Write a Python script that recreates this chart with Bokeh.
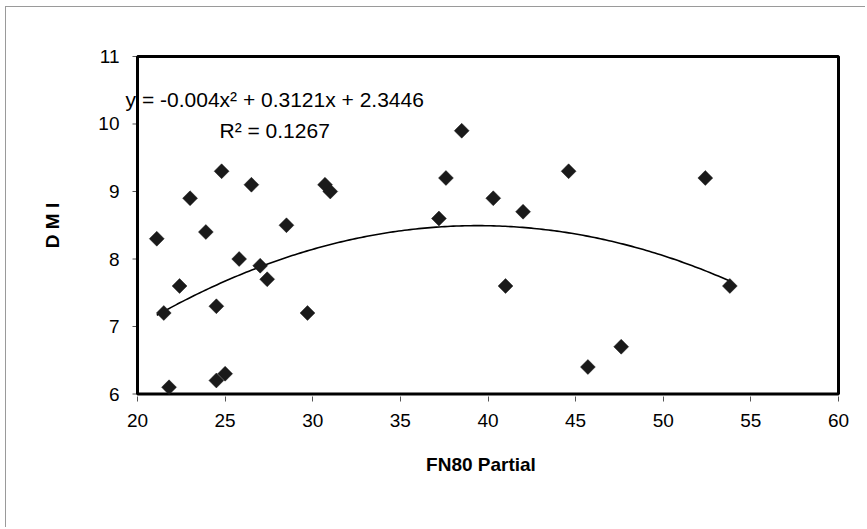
import numpy as np
from bokeh.plotting import figure
from bokeh.models import FixedTicker, Label, ColumnDataSource, Range1d
from bokeh.embed import file_html
from bokeh.resources import INLINE

# ---- data ----
fn80_partial = [24.8, 23.0, 26.5, 30.7, 31.0, 23.9, 28.5, 21.1, 25.8, 27.0,
                27.4, 22.4, 21.5, 24.5, 29.7, 21.8, 24.5, 25.0, 38.5, 37.6,
                40.3, 42.0, 37.2, 44.6, 41.0, 45.7, 47.6, 52.4, 53.8]
dmi = [9.3, 8.9, 9.1, 9.1, 9.0, 8.4, 8.5, 8.3, 8.0, 7.9,
       7.7, 7.6, 7.2, 7.3, 7.2, 6.1, 6.2, 6.3, 9.9, 9.2,
       8.9, 8.7, 8.6, 9.3, 7.6, 6.4, 6.7, 9.2, 7.6]
# polynomial trendline coefficients (label shows a rounded -0.004)
trend_coeffs = [-0.00396, 0.3121, 2.3446]
equation_text = "y = -0.004x² + 0.3121x + 2.3446"
r2_text = "R² = 0.1267"
x_ticks = [20, 25, 30, 35, 40, 45, 50, 55, 60]
y_ticks = [6, 7, 8, 9, 10, 11]

FONT = "Liberation Sans"
PX_PER_X = 17.525          # screen pixels per x unit (style constant)
TICK_LEN = 5 / PX_PER_X    # 5px outward y ticks

# frame slightly wider than the axes box so the equation label is not clipped
p = figure(width=860, height=521,
           x_range=Range1d(19.087, 60.114), y_range=Range1d(5.963, 11.0296),
           output_backend="svg", toolbar_location=None,
           min_border_left=115, min_border_right=26,
           min_border_top=47, min_border_bottom=132)
p.styles = {"position": "relative", "left": "5px", "top": "6px",
            "border-left": "1px solid #9a9a9a", "border-top": "1px solid #9a9a9a"}

p.background_fill_color = "white"
p.border_fill_color = "white"
p.outline_line_color = None
p.xgrid.visible = False
p.ygrid.visible = False

for ax in (p.xaxis[0], p.yaxis[0]):
    ax.axis_line_color = None
    ax.major_tick_line_color = "#555555"
    ax.major_tick_out = 5
    ax.major_tick_in = 0
    ax.minor_tick_line_color = None
    ax.major_label_text_font = FONT
    ax.major_label_text_font_size = "19px"
    ax.major_label_text_color = "black"
    ax.axis_label_text_font = FONT
    ax.axis_label_text_font_size = "19px"
    ax.axis_label_text_font_style = "bold"
    ax.axis_label_text_color = "black"

p.xaxis.ticker = FixedTicker(ticks=x_ticks)
p.yaxis.ticker = FixedTicker(ticks=y_ticks)
p.yaxis.major_tick_line_color = None
p.yaxis.major_tick_out = 0
p.xaxis.axis_label = "FN80 Partial"
p.yaxis.axis_label = "D M I"
p.xaxis.major_label_standoff = 12
p.yaxis.major_label_standoff = 2
p.xaxis.axis_label_standoff = 24
p.yaxis.axis_label_standoff = 32

# y tick marks drawn just outside the plot-area border
p.segment(x0=[x_ticks[0] - TICK_LEN] * len(y_ticks), x1=[x_ticks[0]] * len(y_ticks),
          y0=y_ticks, y1=y_ticks, line_color="#555555", line_width=1)

# plot-area border
p.quad(left=[x_ticks[0]], right=[x_ticks[-1]], bottom=[y_ticks[0]], top=[y_ticks[-1]],
       fill_color=None, line_color="black", line_width=3)

# trend line
xs = np.linspace(min(fn80_partial), max(fn80_partial), 200)
ys = np.polyval(trend_coeffs, xs)
p.line(xs, ys, line_color="black", line_width=1.6)

src = ColumnDataSource(data=dict(x=fn80_partial, y=dmi))
p.scatter("x", "y", source=src, marker="square", size=10.5, angle=np.pi / 4,
          fill_color="#1a1a1a", line_color="#1a1a1a", line_width=0.5)

p.add_layout(Label(x=19.32, y=10.363, text=equation_text, text_font=FONT,
                   text_font_size="21px", text_baseline="middle",
                   text_align="left", text_color="black"))
p.add_layout(Label(x=24.68, y=9.904, text=r2_text, text_font=FONT,
                   text_font_size="21px", text_baseline="middle",
                   text_align="left", text_color="black"))

open("out.html", "w").write(file_html(p, INLINE))
